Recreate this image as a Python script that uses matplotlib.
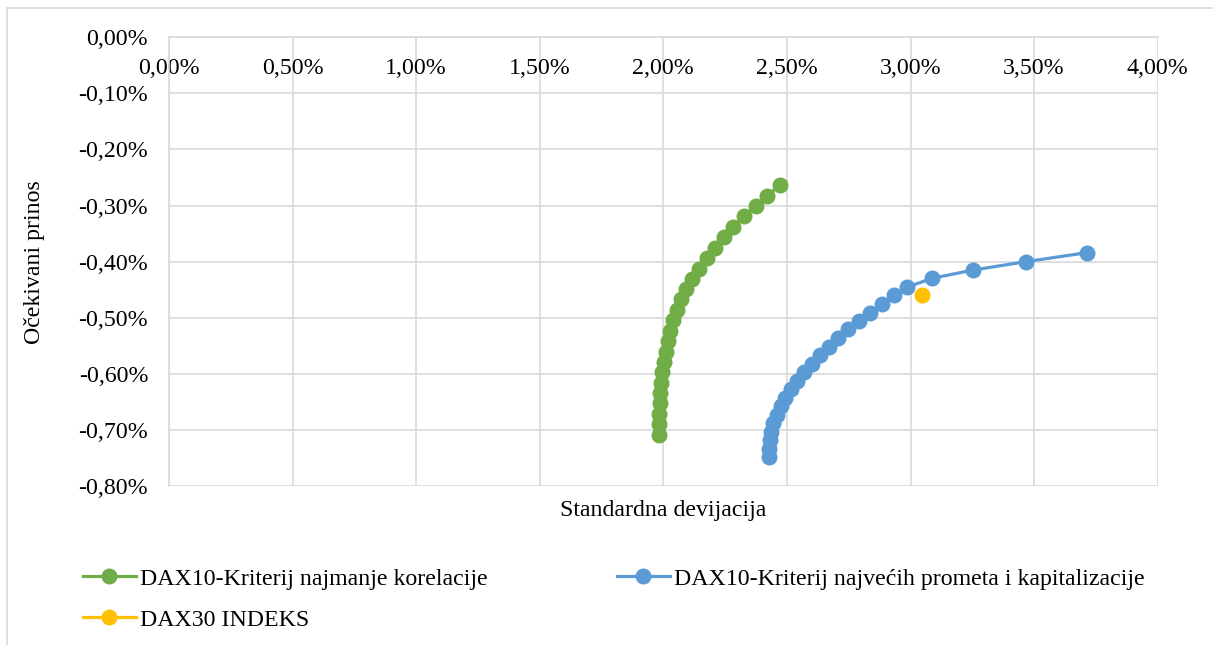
import numpy as np
import matplotlib.pyplot as plt
from matplotlib.patches import Rectangle
from matplotlib.ticker import FuncFormatter

plt.rcParams['font.family'] = ['Liberation Serif', 'DejaVu Serif']

# standard deviation (%) and expected return (%)
green_sd = [2.472, 2.420, 2.373, 2.326, 2.283, 2.245, 2.209, 2.175, 2.144, 2.116,
            2.091, 2.071, 2.054, 2.040, 2.027, 2.017, 2.009, 2.001, 1.996, 1.992,
            1.987, 1.985, 1.982, 1.981, 1.981]
green_ret = [-0.2633, -0.2823, -0.3001, -0.3185, -0.3375, -0.3564, -0.3750, -0.3938,
             -0.4124, -0.4307, -0.4485, -0.4669, -0.4859, -0.5038, -0.5228, -0.5412,
             -0.5602, -0.5786, -0.5969, -0.6154, -0.6338, -0.6521, -0.6706, -0.6890,
             -0.7086]

blue_sd = [3.712, 3.467, 3.254, 3.088, 2.987, 2.933, 2.886, 2.836, 2.791, 2.748,
           2.708, 2.669, 2.634, 2.600, 2.569, 2.540, 2.515, 2.493, 2.475, 2.458,
           2.445, 2.435, 2.430, 2.427, 2.427]
blue_ret = [-0.3839, -0.3999, -0.4147, -0.4295, -0.4451, -0.4597, -0.4747, -0.4908,
            -0.5055, -0.5203, -0.5363, -0.5513, -0.5661, -0.5821, -0.5969, -0.6119,
            -0.6272, -0.6421, -0.6569, -0.6724, -0.6877, -0.7027, -0.7175, -0.7330,
            -0.7483]

dax_sd = [3.045]
dax_ret = [-0.4592]

labels = ['DAX10-Kriterij najmanje korelacije',
          'DAX10-Kriterij najvećih prometa i kapitalizacije',
          'DAX30 INDEKS']

grid_c = '#d9d9d9'
fs = 17.2

fig = plt.figure(figsize=(12.13, 6.45), dpi=100)
ax = fig.add_axes([169 / 1213, 1 - 486.3 / 645, 988.7 / 1213, 449.1 / 645])

# chart area border (only left/top visible in the crop)
fig.patches.append(Rectangle((7 / 1213, -0.1), 1.2, (1 - 8 / 645) + 0.1,
                             transform=fig.transFigure, fill=False,
                             edgecolor=grid_c, lw=1.2))

l1, = ax.plot(green_sd, green_ret, '-o', color='#70AD47', lw=2.3, ms=10.5, zorder=3)
l2, = ax.plot(blue_sd, blue_ret, '-o', color='#5B9BD5', lw=2.3, ms=10.5, zorder=3)
l3, = ax.plot(dax_sd, dax_ret, '-o', color='#FFC000', lw=2.3, ms=10.5, zorder=4)

ax.set_xlim(0, 4)
ax.set_ylim(-0.8, 0)
ax.set_xticks(np.arange(0, 4.01, 0.5))
ax.set_yticks(np.arange(-0.8, 0.001, 0.1))
fmt = FuncFormatter(lambda v, p: ('%.2f%%' % (0 if abs(v) < 1e-9 else v)).replace('.', ','))
ax.xaxis.set_major_formatter(fmt)
ax.yaxis.set_major_formatter(fmt)

ax.grid(True, color=grid_c, lw=1.2)
ax.set_axisbelow(True)
ax.spines['bottom'].set_position(('data', 0))
ax.spines['bottom'].set_color(grid_c)
ax.spines['left'].set_color(grid_c)
ax.spines['bottom'].set_linewidth(1.2)
ax.spines['left'].set_linewidth(1.2)
ax.spines['top'].set_visible(False)
ax.spines['right'].set_visible(False)
ax.tick_params(axis='both', length=0, labelsize=fs)
ax.tick_params(axis='x', pad=15)
ax.tick_params(axis='y', pad=15)

ax.set_xlabel('Standardna devijacija', fontsize=fs)
ax.set_ylabel('Očekivani prinos', fontsize=fs)
ax.xaxis.set_label_coords(0.5, -0.031)
ax.yaxis.set_label_coords(-0.125, 0.5)

# order so that the legend reads row by row like the original
fig.legend([l1, l3, l2], [labels[0], labels[2], labels[1]], loc='upper left',
           ncol=2, frameon=False, bbox_to_anchor=(83 / 1213, 1 - 568 / 645),
           fontsize=fs, handlelength=2.2, handletextpad=0.2, columnspacing=5.4,
           labelspacing=0.8, borderpad=0, borderaxespad=0)

fig.savefig('out.png', dpi=100)
